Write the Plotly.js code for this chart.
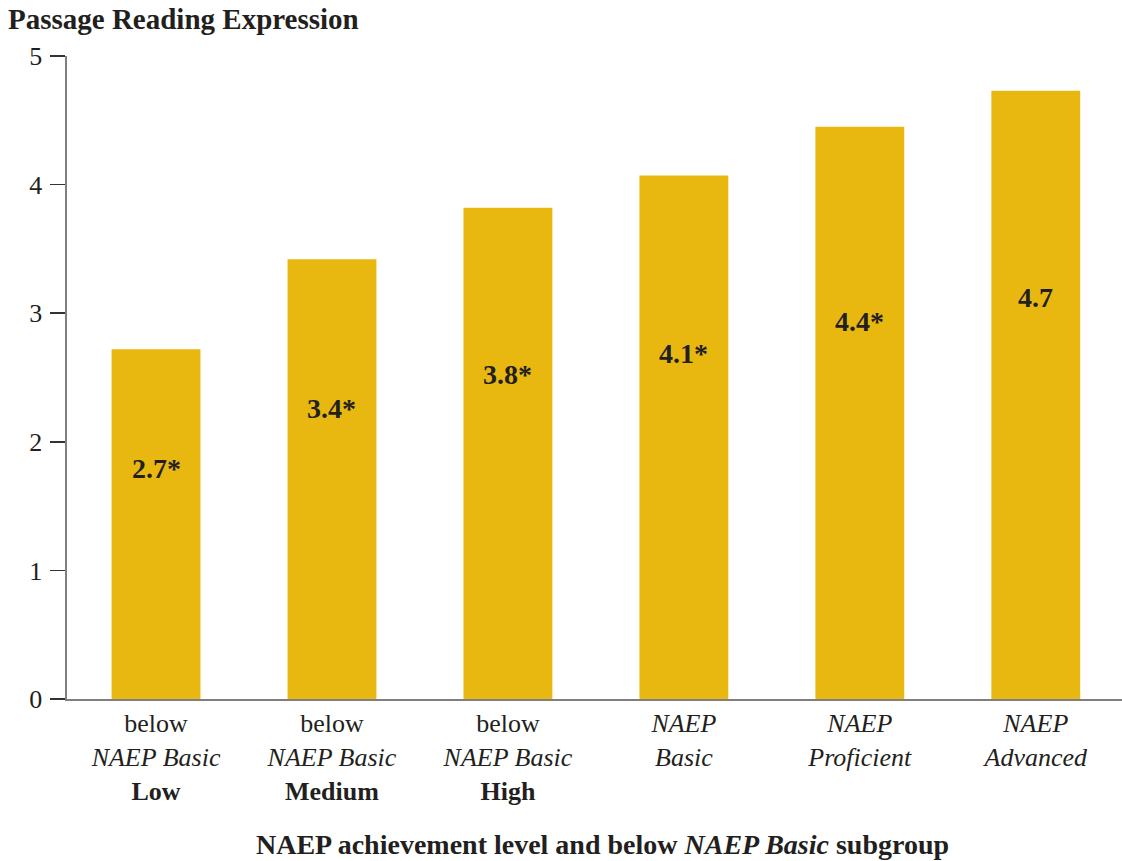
<!DOCTYPE html>
<html>
<head>
<meta charset="utf-8">
<script src="https://cdn.plot.ly/plotly-3.0.1.min.js"></script>
<style>html,body{margin:0;padding:0;background:#fff;}#chart{width:1122px;height:861px;}</style>
</head>
<body>
<div id="chart"></div>
<script>
const categories = ["Low", "Medium", "High", "Basic", "Proficient", "Advanced"];
const tickLabels = [
  "below<br><i>NAEP Basic</i><br><b>Low</b>",
  "below<br><i>NAEP Basic</i><br><b>Medium</b>",
  "below<br><i>NAEP Basic</i><br><b>High</b>",
  "<i>NAEP</i><br><i>Basic</i>",
  "<i>NAEP</i><br><i>Proficient</i>",
  "<i>NAEP</i><br><i>Advanced</i>"
];
const values = [2.72, 3.42, 3.82, 4.07, 4.45, 4.73];
const valueLabels = ["2.7*", "3.4*", "3.8*", "4.1*", "4.4*", "4.7"];
const xTitle = "NAEP achievement level and below <i>NAEP Basic</i> subgroup";
const chartTitle = "Passage Reading Expression";

const serif = "Liberation Serif, Times New Roman, serif";
const dark = "#231f20";

const annotations = categories.map((c, i) => ({
  x: c, y: values[i] * 0.66, xref: "x", yref: "y",
  text: "<b>" + valueLabels[i] + "</b>", showarrow: false,
  font: {family: serif, size: 28, color: dark}
}));
annotations.push({
  xref: "paper", yref: "paper", x: 0.508, y: -0.227,
  xanchor: "center", yanchor: "middle",
  text: "<b>" + xTitle + "</b>", showarrow: false,
  font: {family: serif, size: 28, color: dark}
});

Plotly.newPlot("chart", [{
  type: "bar",
  x: categories,
  y: values,
  width: 0.505,
  marker: {color: "#e8b810"},
  hoverinfo: "none"
}], {
  width: 1122, height: 861,
  margin: {l: 67, r: 0, t: 56, b: 162},
  paper_bgcolor: "#fff", plot_bgcolor: "#fff",
  showlegend: false,
  font: {family: serif, color: dark},
  title: {
    text: "<b>" + chartTitle + "</b>",
    xref: "container", yref: "container",
    x: 8 / 1122, xanchor: "left",
    y: 1 - 19 / 861, yanchor: "middle",
    font: {family: serif, size: 29, color: dark}
  },
  xaxis: {
    type: "category",
    range: [-0.506, 5.49],
    tickvals: categories,
    ticktext: tickLabels,
    tickfont: {family: serif, size: 26, color: dark},
    showgrid: false, zeroline: false,
    showline: true, linecolor: "rgba(0,0,0,0.5)", linewidth: 2,
    ticks: ""
  },
  yaxis: {
    range: [0, 5],
    tickvals: [0, 1, 2, 3, 4, 5],
    tickfont: {family: serif, size: 26, color: dark},
    showgrid: false, zeroline: false,
    showline: true, linecolor: "rgba(0,0,0,0.5)", linewidth: 2.5,
    ticks: "outside", ticklen: 15, tickwidth: 1.5, tickcolor: "#333",
    ticklabelstandoff: 2
  },
  annotations: annotations
}, {displayModeBar: false, staticPlot: true});
</script>
</body>
</html>
